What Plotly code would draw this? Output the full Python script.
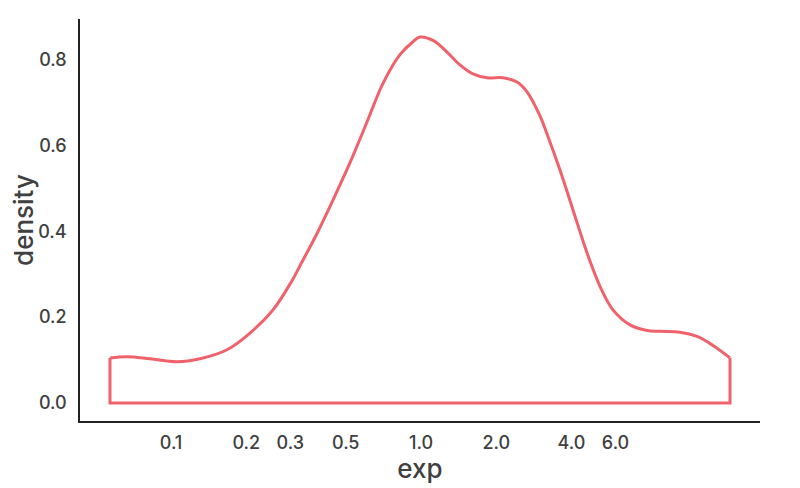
import plotly.graph_objects as go

# Curva de densidade (eixo x em escala log)
exp_vals = [0.0570, 0.0667, 0.0824, 0.1057, 0.1306, 0.1675, 0.2070, 0.2559, 0.3048,
            0.3281, 0.3837, 0.4446, 0.5200, 0.6081, 0.7047, 0.8241, 0.9290, 0.9908,
            1.117, 1.271, 1.432, 1.614, 1.837, 2.128, 2.421, 2.655, 2.992, 3.192,
            3.597, 4.055, 4.613, 5.200, 5.861, 6.855, 8.017, 9.036, 10.86, 12.71,
            14.72, 17.22]
density = [0.105, 0.108, 0.103, 0.096, 0.103, 0.124, 0.163, 0.217, 0.285,
           0.320, 0.395, 0.473, 0.560, 0.655, 0.745, 0.812, 0.842, 0.853,
           0.845, 0.818, 0.788, 0.767, 0.758, 0.758, 0.748, 0.725, 0.669, 0.627,
           0.543, 0.450, 0.350, 0.272, 0.217, 0.182, 0.169, 0.167, 0.165, 0.155,
           0.134, 0.105]

tick_vals = [0.1, 0.2, 0.3, 0.5, 1.0, 2.0, 4.0, 6.0]
tick_text = ['0.1', '0.2', '0.3', '0.5', '1.0', '2.0', '4.0', '6.0']

cor = '#f0626b'
texto = '#404040'

fig = go.Figure()

# contorno inferior (bordas verticais + base em zero)
fig.add_trace(go.Scatter(
    x=[exp_vals[-1], exp_vals[-1], exp_vals[0], exp_vals[0]],
    y=[density[-1], 0, 0, density[0]],
    mode='lines', line=dict(color=cor, width=3), hoverinfo='skip'))

fig.add_trace(go.Scatter(
    x=exp_vals, y=density, mode='lines',
    line=dict(color=cor, width=3, shape='spline', smoothing=1.0)))

# margens compensam os 8px de margem do body da página
fig.update_layout(
    width=800, height=488,
    plot_bgcolor='white', paper_bgcolor='white',
    margin=dict(l=72, r=48, t=11, b=75),
    showlegend=False,
    font=dict(family='Inter, Roboto, sans-serif', size=18, color=texto),
)

fig.update_xaxes(
    type='log', range=[-1.364, 1.356], automargin=False,
    tickvals=tick_vals, ticktext=tick_text,
    tickfont=dict(size=18, color=texto, weight=500),
    showgrid=False, zeroline=False, ticks='', ticklabelstandoff=5,
    showline=True, linecolor='#222222', linewidth=1.5,
    title=dict(text='exp', font=dict(size=26, color=texto, weight=500), standoff=3),
)
fig.update_yaxes(
    range=[-0.042, 0.895], automargin=False,
    tickvals=[0.0, 0.2, 0.4, 0.6, 0.8], tickformat='.1f',
    tickfont=dict(size=18, color=texto, weight=500),
    showgrid=False, zeroline=False, ticks='', ticklabelstandoff=8,
    showline=True, linecolor='#222222', linewidth=1.5,
    title=dict(text='density', font=dict(size=26, color=texto, weight=500), standoff=8),
)

fig.write_html('out.html')
